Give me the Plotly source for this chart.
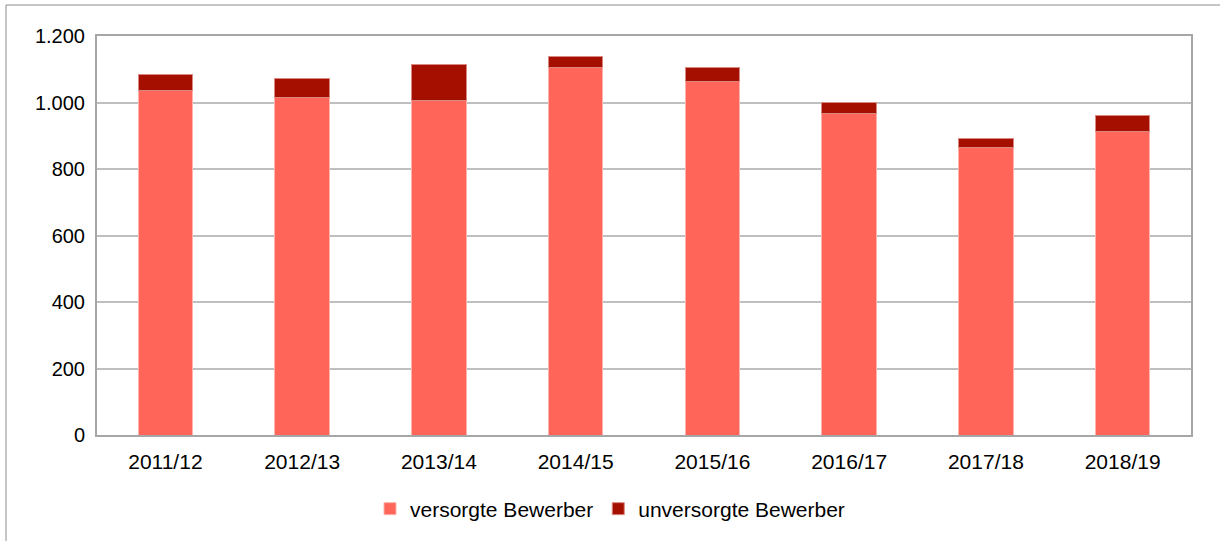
import plotly.graph_objects as go

categories = ["2011/12", "2012/13", "2013/14", "2014/15", "2015/16", "2016/17", "2017/18", "2018/19"]
versorgte = [1036, 1016, 1006, 1106, 1062, 967, 866, 914]
unversorgte = [48, 57, 109, 31, 42, 34, 26, 46]
y_ticks = [0, 200, 400, 600, 800, 1000, 1200]
y_ticktext = ["0", "200", "400", "600", "800", "1.000", "1.200"]

FONT = "Liberation Sans, Arial, sans-serif"

fig = go.Figure()
fig.add_trace(go.Bar(
    x=categories, y=versorgte, name="versorgte Bewerber",
    marker=dict(color="#FF6659", line=dict(color="#FFB3AC", width=1)),
))
fig.add_trace(go.Bar(
    x=categories, y=unversorgte, name="unversorgte Bewerber",
    marker=dict(color="#A50F00", line=dict(color="#D88A82", width=1)),
))

L, R, T, B = 97, 29, 36, 106
W, H = 1220, 541
pw, ph = W - L - R, H - T - B

def px_x(p):
    return (p - L) / pw

def px_y(p):
    return (H - B - p) / ph

fig.update_layout(
    barmode="stack",
    bargap=0.6,
    width=W, height=H,
    margin=dict(l=L, r=R, t=T, b=B),
    paper_bgcolor="white",
    plot_bgcolor="white",
    font=dict(family=FONT, size=20, color="#000000"),
    showlegend=True,
    legend=dict(
        orientation="h",
        x=px_x(370), xanchor="left",
        y=px_y(509), yanchor="middle",
        font=dict(family=FONT, size=21, color="#000000"),
        itemwidth=30,
        traceorder="normal",
        bgcolor="rgba(0,0,0,0)",
    ),
    xaxis=dict(
        showgrid=False,
        showline=True, linecolor="#A6A6A6", linewidth=2,
        mirror=True,
        ticks="",
        ticklabelstandoff=7,
        tickfont=dict(family=FONT, size=21, color="#000000"),
    ),
    yaxis=dict(
        range=[0, 1200],
        tickvals=y_ticks, ticktext=y_ticktext,
        showgrid=True, gridcolor="#BFBFBF", gridwidth=2,
        showline=True, linecolor="#A6A6A6", linewidth=2,
        mirror=True,
        ticks="",
        ticklabelstandoff=6,
        zeroline=False,
        tickfont=dict(family=FONT, size=20, color="#000000"),
    ),
    shapes=[dict(
        type="rect", xref="paper", yref="paper",
        x0=px_x(6), x1=px_x(1240), y0=px_y(560), y1=px_y(5),
        line=dict(color="#8C8C8C", width=1),
        fillcolor="rgba(0,0,0,0)",
        layer="below",
    )],
)

fig.write_html(
    "out.html",
    config={"displayModeBar": False},
    post_script="document.body.style.margin='0';document.body.style.padding='0';",
)
